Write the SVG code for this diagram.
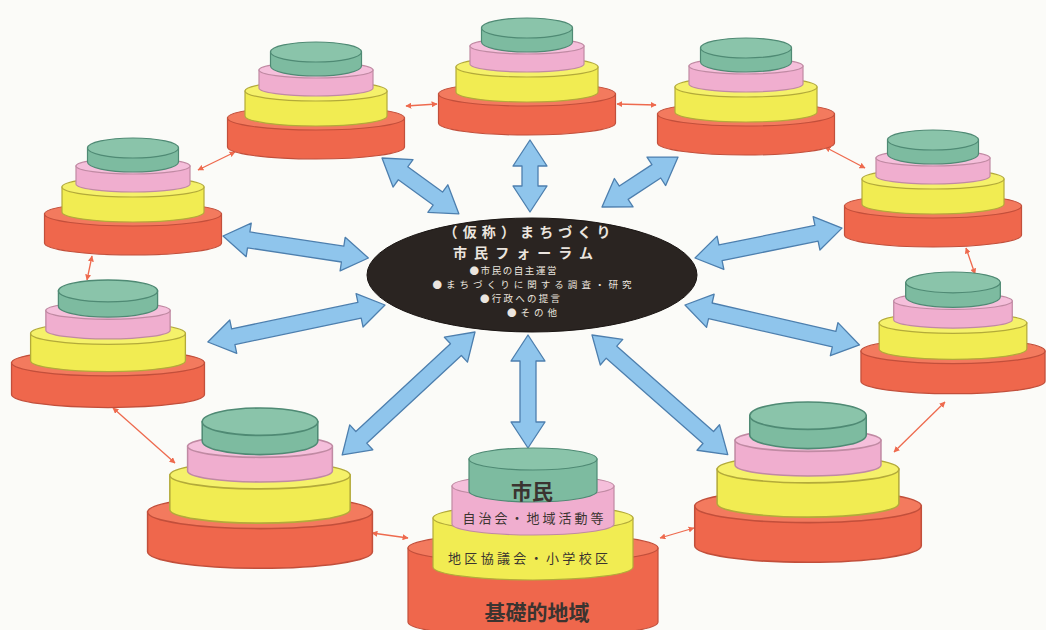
<svg xmlns="http://www.w3.org/2000/svg" xmlns:xlink="http://www.w3.org/1999/xlink" width="1046" height="630" viewBox="0 0 1046 630">
<style>
.ob{fill:#ef674c;stroke:#c24f3b;stroke-width:1.2}
.ot{fill:#f37a5e;stroke:#c24f3b;stroke-width:1.2}
.yb{fill:#f1ec52;stroke:#b3aa3a;stroke-width:1.2}
.yt{fill:#f5f16a;stroke:#b3aa3a;stroke-width:1.2}
.pb{fill:#f0aecf;stroke:#c08aa3;stroke-width:1.2}
.pt{fill:#f5bfdb;stroke:#c08aa3;stroke-width:1.2}
.gb{fill:#7dbba0;stroke:#4f8a74;stroke-width:1.2}
.gt{fill:#8ac4aa;stroke:#4f8a74;stroke-width:1.2}
.arr{fill:#8fc5ec;stroke:#4d7fae;stroke-width:1.3;stroke-linejoin:round}
.con{stroke:#ee6a4e;stroke-width:1.3;fill:none;marker-start:url(#ah);marker-end:url(#ah)}
.ct{font-family:"Noto Sans CJK JP",sans-serif;fill:#ebe5df;text-anchor:middle}
.bt{font-family:"Noto Sans CJK JP",sans-serif;fill:#3b3430;text-anchor:middle}
</style>
<defs>
<marker id="ah" viewBox="0 0 10 10" refX="9" refY="5" markerWidth="6" markerHeight="6" orient="auto-start-reverse" markerUnits="userSpaceOnUse">
<path d="M0,0 L10,5 L0,10 Z" fill="#ee6a4e"/>
</marker>
<g id="stack">
<path class="ob" d="M-88.5,76 V105 A88.5,12 0 0 0 88.5,105 V76 Z"/>
<ellipse class="ot" cx="0" cy="76" rx="88.5" ry="12"/>
<path class="yb" d="M-71,49 V74 A71,10 0 0 0 71,74 V49 Z"/>
<ellipse class="yt" cx="0" cy="49" rx="71" ry="10"/>
<path class="pb" d="M-57,28 V46 A57,8 0 0 0 57,46 V28 Z"/>
<ellipse class="pt" cx="0" cy="28" rx="57" ry="8"/>
<path class="gb" d="M-45.5,10 V24 A45.5,10 0 0 0 45.5,24 V10 Z"/>
<ellipse class="gt" cx="0" cy="10" rx="45.5" ry="10"/>
</g>
</defs>
<rect width="1046" height="630" fill="#fbfbf8"/>

<g id="connectors">
<line class="con" x1="235" y1="152" x2="198" y2="170"/>
<line class="con" x1="406" y1="106" x2="437" y2="104"/>
<line class="con" x1="617" y1="104" x2="656" y2="105"/>
<line class="con" x1="825" y1="147" x2="865" y2="168"/>
<line class="con" x1="966" y1="248" x2="975" y2="274"/>
<line class="con" x1="945" y1="402" x2="894" y2="452"/>
<line class="con" x1="660" y1="538" x2="694" y2="528"/>
<line class="con" x1="372" y1="533" x2="408" y2="538"/>
<line class="con" x1="113" y1="408" x2="175" y2="463"/>
<line class="con" x1="92" y1="256" x2="87" y2="280"/>
</g>

<g id="arrows">
<path class="arr" transform="translate(382,158) rotate(36)" d="M0,0 L26,-17 L26,-8 L69,-8 L69,-17 L95,0 L69,17 L69,8 L26,8 L26,17 Z"/>
<path class="arr" transform="translate(530,140) rotate(90)" d="M0,0 L26,-17 L26,-8 L46,-8 L46,-17 L72,0 L46,17 L46,8 L26,8 L26,17 Z"/>
<path class="arr" transform="translate(602,207) rotate(-33.3)" d="M0,0 L26,-17 L26,-8 L65,-8 L65,-17 L91,0 L65,17 L65,8 L26,8 L26,17 Z"/>
<path class="arr" transform="translate(695,258) rotate(-11.5)" d="M0,0 L26,-17 L26,-8 L124,-8 L124,-17 L150,0 L124,17 L124,8 L26,8 L26,17 Z"/>
<path class="arr" transform="translate(685,305) rotate(12.9)" d="M0,0 L26,-17 L26,-8 L153,-8 L153,-17 L179,0 L153,17 L153,8 L26,8 L26,17 Z"/>
<path class="arr" transform="translate(592,335) rotate(41.4)" d="M0,0 L26,-17 L26,-8 L155,-8 L155,-17 L181,0 L155,17 L155,8 L26,8 L26,17 Z"/>
<path class="arr" transform="translate(528,335) rotate(90)" d="M0,0 L26,-17 L26,-8 L87,-8 L87,-17 L113,0 L87,17 L87,8 L26,8 L26,17 Z"/>
<path class="arr" transform="translate(475,332) rotate(137.2)" d="M0,0 L26,-17 L26,-8 L155,-8 L155,-17 L181,0 L155,17 L155,8 L26,8 L26,17 Z"/>
<path class="arr" transform="translate(385,305) rotate(168.2)" d="M0,0 L26,-17 L26,-8 L155,-8 L155,-17 L181,0 L155,17 L155,8 L26,8 L26,17 Z"/>
<path class="arr" transform="translate(223,236) rotate(8.6)" d="M0,0 L26,-17 L26,-8 L121,-8 L121,-17 L147,0 L121,17 L121,8 L26,8 L26,17 Z"/>
</g>

<g id="forum">
<ellipse cx="532" cy="275" rx="165" ry="57" fill="#2a2421" stroke="#1a1513" stroke-width="1"/>
<text class="ct" x="527" y="237" font-size="14" font-weight="700" textLength="167" lengthAdjust="spacing">（仮称）まちづくり</text>
<text class="ct" x="523" y="258" font-size="14" font-weight="700" textLength="140" lengthAdjust="spacing">市民フォーラム</text>
<text class="ct" x="513" y="274" font-size="9.5" textLength="87" lengthAdjust="spacing">●市民の自主運営</text>
<text class="ct" x="532" y="288" font-size="9.5" textLength="199" lengthAdjust="spacing">●まちづくりに関する調査・研究</text>
<text class="ct" x="520" y="302" font-size="9.5" textLength="80" lengthAdjust="spacing">●行政への提言</text>
<text class="ct" x="532" y="316" font-size="9.5" textLength="50" lengthAdjust="spacing">●その他</text>
</g>

<g id="stack-a"><use xlink:href="#stack" transform="translate(316,42)"/></g>
<g id="stack-b"><use xlink:href="#stack" transform="translate(527,18)"/></g>
<g id="stack-c"><use xlink:href="#stack" transform="translate(746,38)"/></g>
<g id="stack-d"><use xlink:href="#stack" transform="translate(933,130)"/></g>
<g id="stack-e"><use xlink:href="#stack" transform="translate(953,272) scale(1.04)"/></g>
<g id="stack-f"><use xlink:href="#stack" transform="translate(808,402) scale(1.28,1.37)"/></g>
<g id="stack-h"><use xlink:href="#stack" transform="translate(260,408) scale(1.27,1.37)"/></g>
<g id="stack-i"><use xlink:href="#stack" transform="translate(108,280) scale(1.09)"/></g>
<g id="stack-j"><use xlink:href="#stack" transform="translate(133,138)"/></g>

<g id="stack-g">
<path class="ob" d="M408,548 V622 A125,15 0 0 0 658,622 V548 Z"/>
<ellipse class="ot" cx="533" cy="548" rx="125" ry="15"/>
<path class="yb" d="M433,518 V567 A100,13 0 0 0 633,567 V518 Z"/>
<ellipse class="yt" cx="533" cy="518" rx="100" ry="13"/>
<path class="pb" d="M452,486 V524 A81,11 0 0 0 614,524 V486 Z"/>
<ellipse class="pt" cx="533" cy="486" rx="81" ry="11"/>
<path class="gb" d="M469,459 V491 A64,11 0 0 0 597,491 V459 Z"/>
<ellipse class="gt" cx="533" cy="459" rx="64" ry="11"/>
<text class="bt" x="532" y="499" font-size="21" font-weight="700">市民</text>
<text class="bt" x="533" y="523" font-size="13" textLength="141" lengthAdjust="spacing">自治会・地域活動等</text>
<text class="bt" x="528" y="563" font-size="13" textLength="160" lengthAdjust="spacing">地区協議会・小学校区</text>
<text class="bt" x="537" y="620" font-size="21" font-weight="700">基礎的地域</text>
</g>
</svg>
